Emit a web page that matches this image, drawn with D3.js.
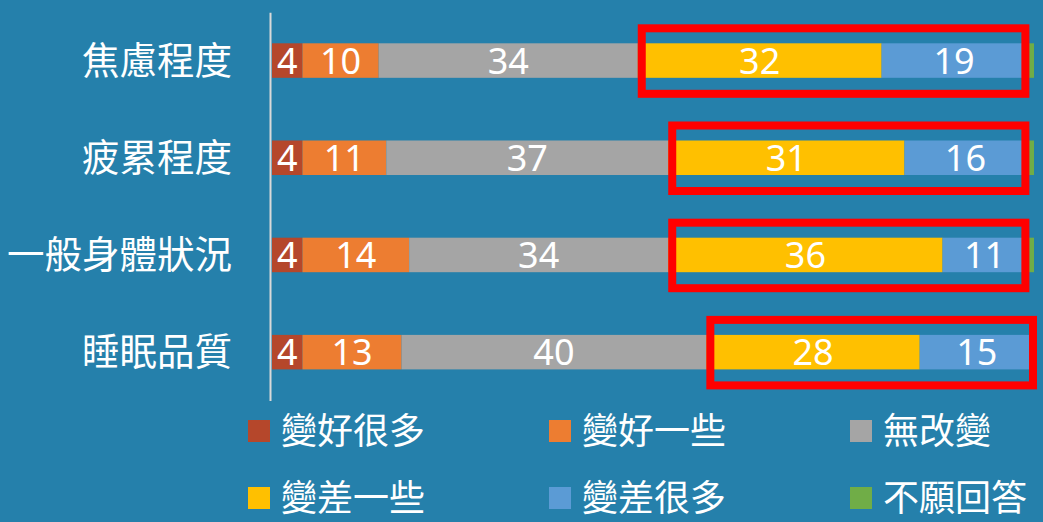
<!DOCTYPE html>
<html>
<head>
<meta charset="utf-8">
<script src="https://cdn.jsdelivr.net/npm/d3@7"></script>
<style>
  html, body { margin: 0; padding: 0; background: #2580ab; }
  svg { display: block; }
  text { font-family: "Segoe UI", "Noto Sans", "Noto Sans CJK TC", sans-serif; }
</style>
</head>
<body>
<svg id="chart" width="1043" height="522"></svg>
<script>
// ---- data ----
const categories = ["焦慮程度", "疲累程度", "一般身體狀況", "睡眠品質"];
const seriesNames = ["變好很多", "變好一些", "無改變", "變差一些", "變差很多", "不願回答"];
const muchBetter   = [4, 4, 4, 4];
const littleBetter = [10, 11, 14, 13];
const noChange     = [34, 37, 34, 40];
const littleWorse  = [32, 31, 36, 28];
const muchWorse    = [19, 16, 11, 15];
const noAnswer     = [1, 1, 1, 0];
const seriesValues = [muchBetter, littleBetter, noChange, littleWorse, muchWorse, noAnswer];
const colors = ["#b5472b", "#ed7d31", "#a5a5a5", "#ffc000", "#5b9bd5", "#70ad47"];
const labelled = [true, true, true, true, true, false];
// highlighted series (boxed in red): 變差一些 + 變差很多
const highlightFrom = 3, highlightTo = 4;

// ---- chart ----
const svg = d3.select("#chart");
const W = 1043, H = 522;
svg.append("rect").attr("width", W).attr("height", H).attr("fill", "#2580ab");

const x = d3.scaleLinear().domain([0, 100]).range([272, 1034]);
const y = d3.scaleBand().domain(categories).range([12.2, 400.5])
  .paddingInner(0.645).paddingOuter(0.32);

const rows = categories.map((c, i) => {
  let acc = 0;
  const segs = seriesValues.map((arr, s) => {
    const seg = { cat: c, s, v: arr[i], x0: acc, x1: acc + arr[i] };
    acc += arr[i];
    return seg;
  });
  return { cat: c, segs };
});

// bars
const g = svg.append("g");
rows.forEach(r => {
  g.selectAll(null).data(r.segs.filter(d => d.v > 0)).enter().append("rect")
    .attr("x", d => x(d.x0))
    .attr("y", y(r.cat))
    .attr("width", d => x(d.x1) - x(d.x0))
    .attr("height", y.bandwidth())
    .attr("fill", d => colors[d.s]);
  g.selectAll(null).data(r.segs.filter(d => d.v > 0 && labelled[d.s])).enter().append("text")
    .attr("x", d => (x(d.x0) + x(d.x1)) / 2)
    .attr("y", y(r.cat) + y.bandwidth() / 2)
    .attr("dy", "0.36em")
    .attr("text-anchor", "middle")
    .attr("fill", "#ffffff")
    .attr("font-size", 36)
    .text(d => d.v);
});

// axis line + category labels
const yAxis = d3.axisLeft(y).tickSize(0).tickPadding(38);
const ax = svg.append("g").attr("transform", `translate(270,0)`).call(yAxis);
ax.select(".domain").attr("stroke", "#d9d9d9").attr("stroke-width", 2);
ax.selectAll("text").attr("fill", "#ffffff").attr("font-size", 37.5)
  .attr("font-family", "'Noto Sans CJK TC', sans-serif").attr("dy", "0.35em");

// red highlight boxes (drawn under the tiny 不願回答 segment)
const sw = 8;
const boxes = svg.insert("g", ":nth-child(2)");
rows.forEach(r => {
  const start = r.segs[highlightFrom].x0;
  const end = r.segs[highlightTo].x1;
  const bx0 = x(start) + sw / 2;
  const bx1 = x(end) - 1;
  svg.append("rect")
    .attr("x", bx0)
    .attr("y", y(r.cat) - 15)
    .attr("width", bx1 - bx0)
    .attr("height", y.bandwidth() + 31)
    .attr("fill", "none")
    .attr("stroke", "#ff0000")
    .attr("stroke-width", sw);
});

// legend
const legend = svg.append("g");
seriesNames.forEach((name, i) => {
  const col = i % 3, row = Math.floor(i / 3);
  const lx = 248 + col * 301, ly = 431 + row * 67;
  legend.append("rect").attr("x", lx).attr("y", ly - 11).attr("width", 22).attr("height", 22)
    .attr("fill", colors[i]);
  legend.append("text").attr("x", lx + 33).attr("y", ly).attr("dy", "0.36em")
    .attr("fill", "#ffffff").attr("font-size", 36)
    .attr("font-family", "'Noto Sans CJK TC', sans-serif")
    .text(name);
});
</script>
</body>
</html>
